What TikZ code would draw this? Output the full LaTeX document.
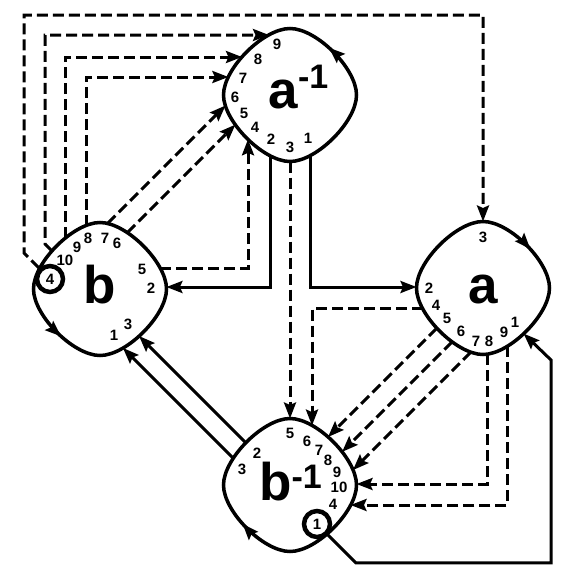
\documentclass[tikz,border=0pt]{standalone}
\usepackage{fontspec}
\setmainfont{Liberation Sans}
\usetikzlibrary{arrows.meta,calc,decorations.markings}
\tikzset{
  cg/.style={font=\bfseries},
  cgarr/.style={-{Stealth[length=16pt,width=12pt,inset=2.5pt]}, line width=3pt},
  cgdarr/.style={cgarr, dash pattern=on 11pt off 5pt},
  cgcellline/.style={
    line width=3.5pt, postaction={decorate},
    decoration={markings, mark=at position 0.14 with {\arrow{Stealth[length=16pt,width=12pt,inset=2.5pt]}}}
  },
  cgnum/.style={font=\fontsize{15}{15}\selectfont\bfseries, inner sep=0pt},
  cgname/.style={font=\fontsize{53}{53}\selectfont\bfseries, inner sep=0pt, anchor=base},
  cgring/.style={cgnum, circle, draw, fill=white, line width=4.5pt, minimum size=26pt},
}
\newcommand{\cgsup}{\fontsize{34}{34}\selectfont}
% #1 centre, #2 angle where the arrow quarter starts, #3 turn (+90 or -90)
\newcommand{\cgcell}[3]{%
  \draw[cgcellline] ($(#1)+(#2:66.5)$)
    .. controls +({#2+#3}:26.6) and +(#2:26.6) .. ($(#1)+({#2+#3}:66.5)$)
    .. controls +({#2+2*#3}:26.6) and +({#2+#3}:26.6) .. ($(#1)+({#2+2*#3}:66.5)$)
    .. controls +({#2+3*#3}:26.6) and +({#2+2*#3}:26.6) .. ($(#1)+({#2+3*#3}:66.5)$)
    .. controls +(#2:26.6) and +({#2+3*#3}:26.6) .. ($(#1)+(#2:66.5)$) -- cycle;
}

\begin{document}
\begin{tikzpicture}[cg, x=1pt, y=-1pt]
  \useasboundingbox (0,0) rectangle (581,581);

  % Celdas
  \coordinate (ainv) at (290,95);
  \coordinate (b) at (100,289);
  \coordinate (a) at (483,288);
  \coordinate (binv) at (290,485);

  \cgcell{ainv}{0}{-90}
  \cgcell{b}{180}{-90}
  \cgcell{a}{-90}{90}
  \cgcell{binv}{90}{90}

  \node[cgname] (ainv-name) at (298.5,108) {a\raisebox{20pt}{\cgsup -1}};
  \node[cgname] (b-name) at (100,303) {b};
  \node[cgname] (a-name) at (483,303) {a};
  \node[cgname] (binv-name) at (290.5,500) {b\raisebox{12pt}{\cgsup -1}};

  % Numeros
  \foreach \n/\x/\y in {9/277/44, 8/258/59, 7/243/78, 6/235/97, 5/244/113,
      4/255/127, 2/271/139, 3/290/147, 1/308/138}
    \node[cgnum] (ainv-\n) at (\x,\y) {\n};
  \foreach \n/\x/\y in {10/65/260, 9/77/247, 8/88/238, 7/105/238, 6/117/243,
      5/142/269, 2/151/288, 3/128/324, 1/114/335}
    \node[cgnum] (b-\n) at (\x,\y) {\n};
  \foreach \n/\x/\y in {3/483/237, 2/429/288, 4/436/305, 5/447/318, 6/461/331,
      7/476/341, 8/489/341, 9/504/332, 1/515/322}
    \node[cgnum] (a-\n) at (\x,\y) {\n};
  \foreach \n/\x/\y in {5/290/433, 6/307/441, 7/319/450, 8/328/460, 9/337/472,
      10/339/487, 4/333/504, 2/257/453, 3/242/469}
    \node[cgnum] (binv-\n) at (\x,\y) {\n};

  \node[cgring] (b-4) at (50,279) {4};
  \node[cgring] (binv-1) at (317,524) {1};

  % b -> a^-1, b -> a
  \draw[cgdarr] (b-4.north west) -- ++(-15,-15) |- ($(a)+(0,-273)$) -- ($(a)+(0,-66.5)$);
  \draw[cgdarr] ($(b)+(-48,-38)$) -- ++(-7,-7) |- ($(ainv)+(-21,-60)$);
  \draw[cgdarr] ($(b)+(-35,-50.8)$) |- ($(ainv)+(-48,-38)$);
  \draw[cgdarr] ($(b)+(-14,-63.3)$) |- ($(ainv)+(-61.6,-18)$);
  \draw[cgdarr] ($(b)+(7.5,-65.5)$) -- ($(ainv)+(-64.5,10.5)$);
  \draw[cgdarr] ($(b)+(27.3,-56.3)$) -- ($(ainv)+(-54.6,29.6)$);
  \draw[cgdarr] ($(b)+(60,-21)$) -| ($(ainv)+(-42,44.3)$);

  % a^-1 -> b, a, b^-1
  \draw[cgarr] ($(ainv)+(-20,60.5)$) |- ($(b)+(66.4,-2)$);
  \draw[cgarr] ($(ainv)+(20,60.5)$) |- ($(a)+(-66.5,-1)$);
  \draw[cgdarr] ($(ainv)+(0,66.5)$) -- ($(binv)+(0,-66.5)$);

  % a -> b^-1
  \draw[cgdarr] ($(a)+(-60.5,20)$) -| ($(binv)+(22,-59.4)$);
  \draw[cgdarr] ($(a)+(-46.1,40.1)$) -- ($(binv)+(38,-48)$);
  \draw[cgdarr] ($(a)+(-30.8,53.8)$) -- ($(binv)+(52.1,-33.1)$);
  \draw[cgdarr] ($(a)+(-12,64)$) -- ($(binv)+(62.9,-14.9)$);
  \draw[cgdarr] ($(a)+(4,66.2)$) |- ($(binv)+(66.5,-1)$);
  \draw[cgdarr] ($(a)+(24.5,58.1)$) |- ($(binv)+(60.5,20)$);

  % b^-1 -> b, a
  \draw[cgarr] ($(binv)+(-56.7,-26.7)$) -- ($(b)+(22.9,58.9)$);
  \draw[cgarr] ($(binv)+(-44.2,-42.2)$) -- ($(b)+(39,47)$);
  \draw[cgarr] (binv-1.south east) -- ++(28,28) -| ($(a)+(68,72)$) -- ($(a)+(40.6,45.6)$);
\end{tikzpicture}
\end{document}
